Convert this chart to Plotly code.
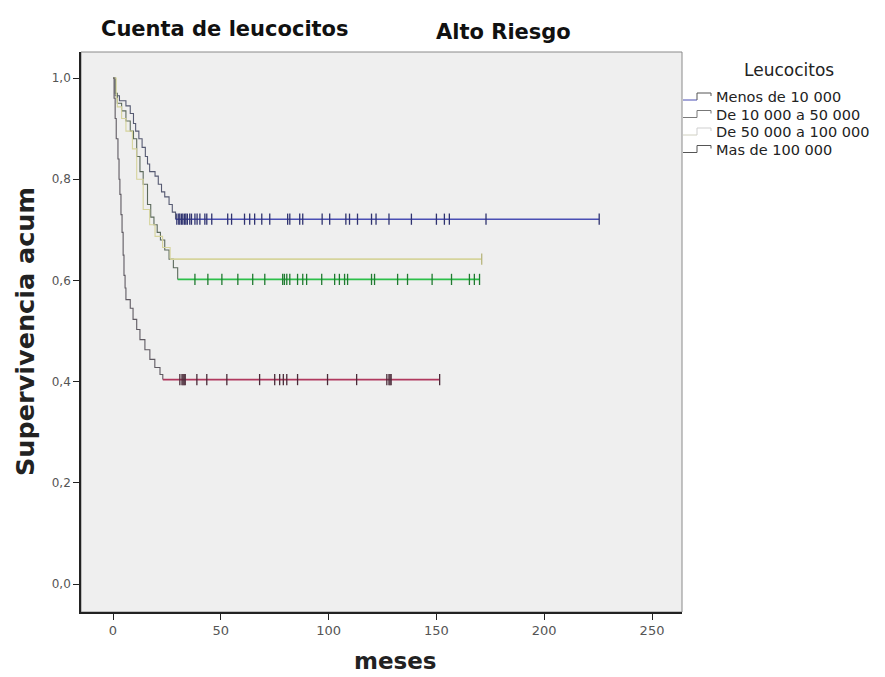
import plotly.graph_objects as go

# Kaplan-Meier estimates by white-cell count group (time in months)
groups = ["Menos de 10 000", "De 10 000 a 50 000", "De 50 000 a 100 000", "Mas de 100 000"]

menos10_t = [0, 1, 3, 6, 8, 9.5, 10.5, 12, 13.5, 15, 16, 17, 19.5, 21, 22.5, 24, 26, 27.5, 29]
menos10_s = [1.0, 0.965, 0.955, 0.945, 0.93, 0.91, 0.895, 0.88, 0.863, 0.845, 0.83, 0.815,
             0.806, 0.79, 0.775, 0.765, 0.75, 0.735, 0.721]
menos10_cens = [29.6, 30.5, 31, 31.8, 32.4, 33.2, 33.8, 34.5, 35.6, 36.4, 38, 39, 40.3, 42.6,
                43.5, 45.8, 53.2, 55, 61, 63.4, 65.7, 69, 72.7, 81, 82, 86.6, 88, 97, 100.5,
                108, 109.7, 113.4, 119.9, 122, 128, 138.4, 150, 153.7, 156, 173, 225.5]

de10a50_t = [0, 1, 2, 4, 6, 8, 9.5, 11, 12.5, 14, 16, 17.5, 19, 20.5, 22, 24, 26, 28, 30]
de10a50_s = [1.0, 0.97, 0.95, 0.935, 0.915, 0.895, 0.88, 0.845, 0.815, 0.79, 0.75, 0.725,
             0.71, 0.695, 0.68, 0.66, 0.642, 0.625, 0.602]
de10a50_cens = [38, 44, 50.5, 57.9, 64.8, 70.4, 78.7, 79.5, 80.6, 82, 85.6, 88, 89.8, 96.8,
                102.8, 105, 107.4, 108.8, 119.9, 121.3, 132, 136.6, 148, 157, 165.3, 167.6, 170]

de50a100_t = [0, 1.5, 2, 4, 6, 9, 11, 14, 17, 19.5, 23, 26.5]
de50a100_s = [1.0, 0.96, 0.943, 0.92, 0.895, 0.86, 0.8, 0.74, 0.71, 0.687, 0.665, 0.642]
de50a100_cens = [171]

mas100_t = [0, 0.5, 1, 1.5, 2.3, 2.8, 3.2, 3.7, 4.2, 4.7, 5.1, 5.6, 6, 8, 9.3, 11, 12.5,
            14.8, 17.1, 19.4, 21.8, 23.1]
mas100_s = [1.0, 0.96, 0.92, 0.88, 0.84, 0.80, 0.77, 0.73, 0.695, 0.65, 0.61, 0.585, 0.562,
            0.545, 0.523, 0.503, 0.483, 0.463, 0.444, 0.428, 0.414, 0.404]
mas100_cens = [31, 32, 32.5, 33, 33.5, 38.9, 43.5, 52.8, 68, 75, 77.3, 79, 80.6, 85.6, 99.5,
               113, 127, 128, 128.5, 129, 151.5]

x_ticks = [0, 50, 100, 150, 200, 250]
y_ticks = [0.0, 0.2, 0.4, 0.6, 0.8, 1.0]

series = [
    (menos10_t, menos10_s, menos10_cens, "#4a4fb4", "#565a72", "#2f3370"),
    (de10a50_t, de10a50_s, de10a50_cens, "#2dbf4a", "#5c6a5c", "#1f7a30"),
    (de50a100_t, de50a100_s, de50a100_cens, "#d6d49c", "#d6d49c", "#b8b67e"),
    (mas100_t, mas100_s, mas100_cens, "#b0385e", "#5f5a62", "#4a2a38"),
]

W, H = 885, 677
L, R, T, B = 81, 682, 52, 612
XR = [-14.84, 263.9]
YR = [-0.0553, 1.0514]
FONT = "DejaVu Sans"


def px(x):
    return (x - L) / (R - L)


def py(y):
    return (B - y) / (B - T)


def label(text, x, y, size, color="#111", xanchor="center", angle=0):
    return dict(text=text, x=px(x), y=py(y), xref="paper", yref="paper",
                xanchor=xanchor, yanchor="middle", textangle=angle, showarrow=False,
                font=dict(size=size, color=color, family=FONT))


fig = go.Figure()

for t, s, cens, col, stepcol, markcol in series:
    end = max(cens)
    # descending part of the step function
    fig.add_trace(go.Scatter(x=t, y=s, mode="lines", line=dict(color=stepcol, width=1.1, shape="hv"),
                             showlegend=False, hoverinfo="skip"))
    # plateau after the last event, up to the last censored case
    fig.add_trace(go.Scatter(x=[t[-1], end], y=[s[-1], s[-1]], mode="lines",
                             line=dict(color=col, width=1.6), showlegend=False, hoverinfo="skip"))
    # censored cases
    fig.add_trace(go.Scatter(x=cens, y=[s[-1]] * len(cens), mode="markers",
                             marker=dict(symbol="line-ns", size=8, line=dict(color=markcol, width=1.3)),
                             showlegend=False, hoverinfo="skip"))

shapes = [
    # plot frame (top/right in grey)
    dict(type="rect", xref="paper", yref="paper", x0=0, x1=1, y0=0, y1=1,
         line=dict(color="#8a8a8a", width=1), layer="below"),
]

annotations = [
    label("<b>Cuenta de leucocitos</b>", 225, 29, 21),
    label("<b>Alto Riesgo</b>", 503, 32, 21),
    label("<b>Supervivencia acum</b>", 25, 332, 25.5, color="#222", angle=-90),
    label("<b>meses</b>", 395, 661, 23, color="#222"),
    label("Leucocitos", 789, 70, 17, color="#222"),
]

# legend entries: step glyph + label
legend_lead = ["#4a4fb4", "#7a7a7a", "#d0d0c0", "#555555"]
legend_glyph = ["#555555", "#777777", "#cfcfcf", "#555555"]
for i, name in enumerate(groups):
    yy = 97 + i * 17.5
    shapes.append(dict(type="line", xref="paper", yref="paper",
                       x0=px(683), x1=px(697), y0=py(yy + 3), y1=py(yy + 3),
                       line=dict(color=legend_lead[i], width=1)))
    shapes.append(dict(type="path", xref="paper", yref="paper",
                       path=f"M {px(697)},{py(yy + 3)} L {px(697)},{py(yy - 4)} L {px(711)},{py(yy - 4)} L {px(711)},{py(yy - 1)}",
                       line=dict(color=legend_glyph[i], width=1)))
    annotations.append(label(name, 714, yy, 14.5, color="#222", xanchor="left"))

fig.update_layout(
    width=W, height=H,
    margin=dict(l=L, r=W - R, t=T, b=H - B, pad=0),
    paper_bgcolor="#ffffff",
    plot_bgcolor="#efefef",
    separators=",.",
    showlegend=False,
    shapes=shapes,
    annotations=annotations,
    xaxis=dict(range=XR, tickvals=x_ticks, showgrid=False, zeroline=False,
               showline=True, linecolor="#222", linewidth=1.6,
               ticks="outside", ticklen=6, tickcolor="#222", tickwidth=1.2,
               tickfont=dict(size=13, color="#555", family=FONT)),
    yaxis=dict(range=YR, tickvals=y_ticks, tickformat=".1f", showgrid=False, zeroline=False,
               showline=True, linecolor="#222", linewidth=1.6,
               ticks="outside", ticklen=6, tickcolor="#222", tickwidth=1.2,
               tickfont=dict(size=12, color="#555", family=FONT)),
)

fig.write_html("out.html")
